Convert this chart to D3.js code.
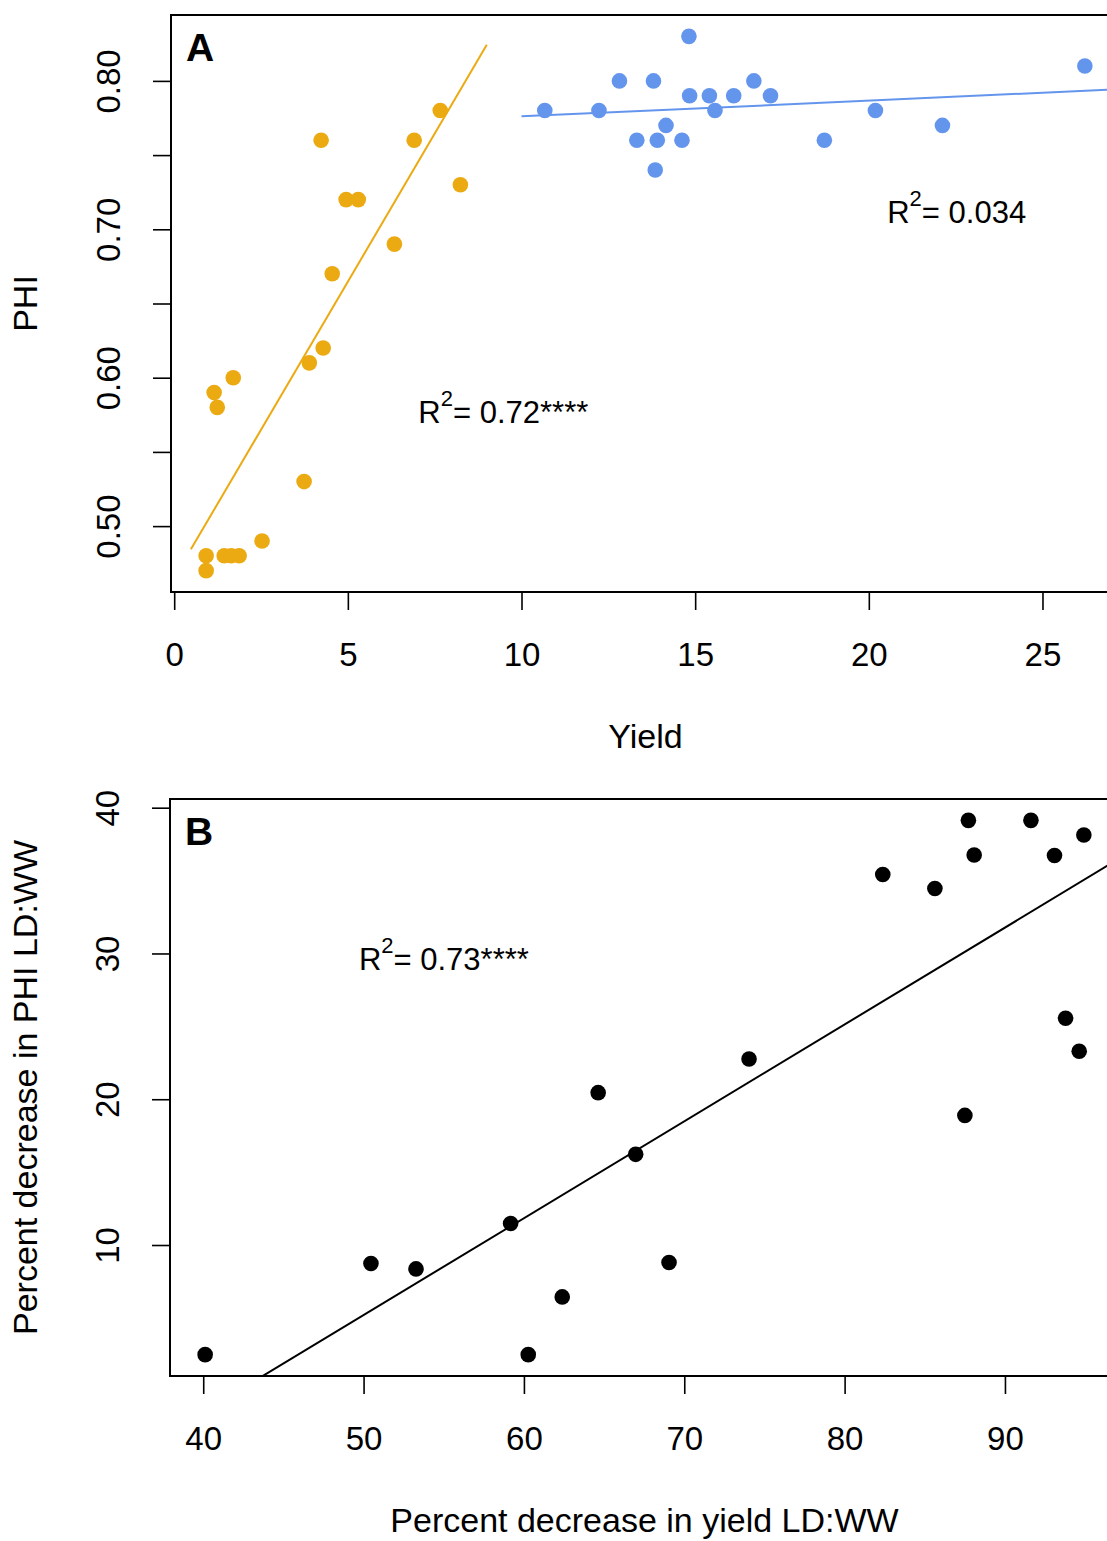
<!DOCTYPE html>
<html>
<head>
<meta charset="utf-8">
<script src="https://cdn.jsdelivr.net/npm/d3@7"></script>
<style>
  body { margin: 0; background: #fff; }
  svg { font-family: "Liberation Sans", Arial, Helvetica, sans-serif; display: block; }
</style>
</head>
<body>
<svg id="chart"></svg>
<script>
// ---- panel A: yield vs PHI, two groups ----
const orangeYield = [0.92, 0.92, 1.44, 1.64, 1.87, 2.53, 1.15, 1.24, 1.70, 3.74,
                     3.89, 4.29, 4.55, 4.23, 4.95, 5.30, 6.34, 6.91, 7.66, 8.24];
const orangePHI = [0.47, 0.48, 0.48, 0.48, 0.48, 0.49, 0.59, 0.58, 0.60, 0.53,
                   0.61, 0.62, 0.67, 0.76, 0.72, 0.72, 0.69, 0.76, 0.78, 0.73];

const blueYield = [10.67, 12.23, 12.82, 13.80, 14.82, 14.84, 15.41, 15.57, 16.11, 16.69,
                   17.17, 13.32, 13.91, 14.16, 14.62, 13.85, 18.72, 20.19, 22.12, 26.22];
const bluePHI = [0.78, 0.78, 0.80, 0.80, 0.83, 0.79, 0.79, 0.78, 0.79, 0.80,
                 0.79, 0.76, 0.76, 0.77, 0.76, 0.74, 0.76, 0.78, 0.77, 0.81];

// fitted lines: [intercept, slope] and the x span they are drawn over
const orangeFit = [0.4652, 0.0399];
const orangeFitSpan = [0.48, 9.0];
const blueFit = [0.7655, 0.00106];
const blueFitSpan = [10, 28];

const yieldTicks = [0, 5, 10, 15, 20, 25];
const phiTicks = [0.50, 0.55, 0.60, 0.65, 0.70, 0.75, 0.80];
const phiTickLabels = ["0.50", "", "0.60", "", "0.70", "", "0.80"];

// ---- panel B: percent decreases ----
const yieldDecrease = [40.12, 50.46, 53.27, 59.17, 60.27, 62.39, 64.63, 66.97, 69.05, 74.04,
                       82.38, 85.63, 87.72, 88.08, 87.50, 91.62, 93.09, 93.78, 94.63, 94.92];
const phiDecrease = [2.48, 8.73, 8.36, 11.48, 2.48, 6.44, 20.45, 16.22, 8.80, 22.76,
                     35.42, 34.46, 39.13, 36.75, 18.89, 39.13, 36.72, 25.56, 23.29, 38.13];
const decreaseFit = [-28.03, 0.6645];

const yieldDecTicks = [40, 50, 60, 70, 80, 90];
const phiDecTicks = [10, 20, 30, 40];
const phiDecTickLabels = ["10", "20", "30", "40"];

const orange = "#EBAA12";
const blue = "#6495ED";

let svgWidth = 1107, svgHeight = 1541;
let svg = d3.select('#chart')
  .attr('width', svgWidth)
  .attr('height', svgHeight);

// R style: data range stretched by 4% on each side
function padded(values) {
  let e = d3.extent(values);
  let p = (e[1] - e[0]) * 0.04;
  return [e[0] - p, e[1] + p];
}

function fitPoints(fit, span) {
  return span.map(v => [v, fit[0] + fit[1] * v]);
}

function drawPanel(p) {
  let box = p.box;
  let x = d3.scaleLinear().domain(padded(p.xAll)).range([box.left, box.right]);
  let y = d3.scaleLinear().domain(padded(p.yAll)).range([box.bottom, box.top]);

  let g = svg.append('g');

  svg.append('clipPath')
    .attr('id', p.id + '-clip')
    .append('rect')
    .attr('x', box.left)
    .attr('y', box.top)
    .attr('width', box.right - box.left)
    .attr('height', box.bottom - box.top);

  // x axis
  let xa = g.append('g')
    .attr('transform', 'translate(0,' + box.bottom + ')')
    .call(d3.axisBottom(x).tickValues(p.xTicks).tickSize(18).tickPadding(33).tickSizeOuter(0));
  xa.select('.domain').remove();

  // y axis, labels turned like R's las = 0
  let ya = g.append('g')
    .attr('transform', 'translate(' + box.left + ',0)')
    .call(d3.axisLeft(y).tickValues(p.yTicks).tickFormat((d, i) => p.yLabels[i]).tickSize(18).tickSizeOuter(0));
  ya.select('.domain').remove();
  ya.selectAll('text')
    .attr('x', 0)
    .attr('y', -51)
    .attr('dy', 0)
    .attr('transform', 'rotate(-90)')
    .attr('text-anchor', 'middle');

  [xa, ya].forEach(a => {
    a.attr('font-family', null).attr('font-size', 33);
    a.selectAll('line').attr('stroke', '#000').attr('stroke-width', 1.6);
    a.selectAll('text').attr('fill', '#000');
  });

  let plot = g.append('g').attr('clip-path', 'url(#' + p.id + '-clip)');

  let line = d3.line()
    .x(d => x(d[0]))
    .y(d => y(d[1]));

  p.fits.forEach(f => {
    plot.append('path')
      .datum(fitPoints(f.fit, f.span || x.domain()))
      .attr('fill', 'none')
      .attr('stroke', f.color)
      .attr('stroke-width', 2)
      .attr('d', line);
  });

  p.series.forEach(s => {
    plot.selectAll(null)
      .data(d3.zip(s.x, s.y))
      .enter()
      .append('circle')
      .attr('cx', d => x(d[0]))
      .attr('cy', d => y(d[1]))
      .attr('r', 7.8)
      .attr('fill', s.color);
  });

  g.append('rect')
    .attr('x', box.left)
    .attr('y', box.top)
    .attr('width', box.right - box.left)
    .attr('height', box.bottom - box.top)
    .attr('fill', 'none')
    .attr('stroke', '#000')
    .attr('stroke-width', 2);

  // panel letter
  g.append('text')
    .attr('x', box.left + 15)
    .attr('y', box.top + 46)
    .attr('font-size', 39)
    .attr('font-weight', 'bold')
    .text(p.letter);

  // R^2 notes
  p.notes.forEach(n => {
    let t = g.append('text')
      .attr('x', x(n.at[0]))
      .attr('y', y(n.at[1]))
      .attr('font-size', 31);
    t.append('tspan').text('R');
    t.append('tspan').attr('font-size', 22).attr('dy', -17).text('2');
    t.append('tspan').attr('dy', 17).text('= ' + n.text);
  });

  // axis titles
  g.append('text')
    .attr('x', (box.left + box.right) / 2)
    .attr('y', box.bottom + 156)
    .attr('text-anchor', 'middle')
    .attr('font-size', 34)
    .text(p.xTitle);

  g.append('text')
    .attr('transform', 'translate(37,' + (box.top + box.bottom) / 2 + ') rotate(-90)')
    .attr('text-anchor', 'middle')
    .attr('font-size', 34)
    .text(p.yTitle);
}

drawPanel({
  id: 'a',
  letter: 'A',
  box: { left: 171, right: 1120, top: 15, bottom: 592 },
  xAll: orangeYield.concat(blueYield),
  yAll: orangePHI.concat(bluePHI),
  xTicks: yieldTicks,
  yTicks: phiTicks,
  yLabels: phiTickLabels,
  series: [
    { x: orangeYield, y: orangePHI, color: orange },
    { x: blueYield, y: bluePHI, color: blue }
  ],
  fits: [
    { fit: orangeFit, span: orangeFitSpan, color: orange },
    { fit: blueFit, span: blueFitSpan, color: blue }
  ],
  notes: [
    { at: [7.03, 0.5696], text: '0.72****' },
    { at: [20.53, 0.7044], text: '0.034' }
  ],
  xTitle: 'Yield',
  yTitle: 'PHI'
});

drawPanel({
  id: 'b',
  letter: 'B',
  box: { left: 170, right: 1119, top: 799, bottom: 1376 },
  xAll: yieldDecrease,
  yAll: phiDecrease,
  xTicks: yieldDecTicks,
  yTicks: phiDecTicks,
  yLabels: phiDecTickLabels,
  series: [
    { x: yieldDecrease, y: phiDecrease, color: '#000' }
  ],
  fits: [
    { fit: decreaseFit, color: '#000' }
  ],
  notes: [
    { at: [49.71, 28.87], text: '0.73****' }
  ],
  xTitle: 'Percent decrease in yield LD:WW',
  yTitle: 'Percent decrease in PHI LD:WW'
});
</script>
</body>
</html>
